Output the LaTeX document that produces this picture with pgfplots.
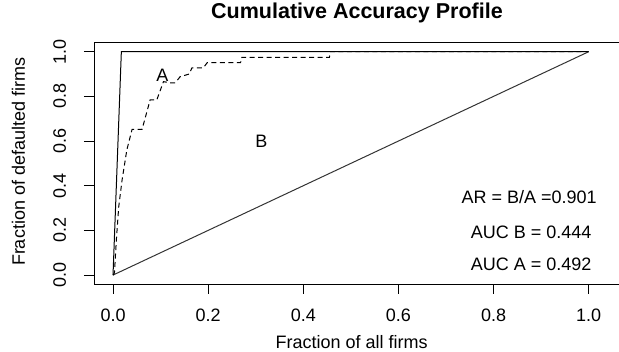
\documentclass[border=0pt]{standalone}
\usepackage{pgfplots}
\pgfplotsset{compat=1.18}
\usepackage{fontspec}
\setmainfont{Liberation Sans}
\begin{document}
\begin{tikzpicture}[font=\fontsize{18}{21}\selectfont]
\useasboundingbox (-94pt,-68pt) rectangle (525pt,284pt);
\clip (-94pt,-68pt) rectangle (525pt,284pt);
\begin{axis}[
  at={(0pt,0pt)}, anchor=south west,
  scale only axis,
  width=542.2pt, height=241.2pt,
  xmin=-0.04, xmax=1.1, ymin=-0.04, ymax=1.04,
  xtick={0,0.2,0.4,0.6,0.8,1.0},
  ytick={0,0.2,0.4,0.6,0.8,1.0},
  xticklabels={0.0,0.2,0.4,0.6,0.8,1.0},
  yticklabels={0.0,0.2,0.4,0.6,0.8,1.0},
  xtick pos=bottom, ytick pos=left,
  tick align=outside,
  major tick length=10pt,
  tick style={black, line width=0.9pt},
  axis line style={black, line width=0.9pt},
  /pgf/number format/assume math mode=true,
  xticklabel style={anchor=base, yshift=-28pt},
  yticklabel style={rotate=90, anchor=base, yshift=18pt},
  title={\textbf{Cumulative Accuracy Profile}},
  title style={at={(axis description cs:0.485,1.0738)}, anchor=base, font=\fontsize{21.5}{24}\selectfont\bfseries},
  xlabel={Fraction of all firms},
  ylabel={Fraction of defaulted firms},
  xlabel style={at={(axis description cs:0.475,-0.268)}, anchor=base},
  ylabel style={at={(axis description cs:-0.1273,0.506)}, anchor=base},
  clip=false,
]
% perfect model
\addplot[black, line width=1pt] coordinates {(0,0) (0.0175,1) (1,1)};
% random model
\addplot[black!80, line width=1pt] coordinates {(0,0) (1,1)};
% CAP curve
\addplot[black, line width=1pt, dash pattern=on 5pt off 3.5pt] coordinates {
(0,0) (0.003,0.01) (0.007,0.157) (0.012,0.306) (0.019,0.425) (0.029,0.56) (0.040,0.652)
(0.061,0.652) (0.078,0.784) (0.092,0.784) (0.106,0.866) (0.12,0.861) (0.131,0.861)
(0.141,0.888) (0.16,0.90) (0.166,0.928) (0.19,0.928) (0.198,0.951) (0.268,0.951)
(0.271,0.975) (0.455,0.975) (0.457,1.0) (1,1)};
\node at (axis cs:0.104,0.896) {A};
\node at (axis cs:0.312,0.60) {B};
\node at (axis cs:0.875,0.349) {AR = B/A =0.901};
\node at (axis cs:0.879,0.19) {AUC B = 0.444};
\node at (axis cs:0.879,0.047) {AUC A = 0.492};
\end{axis}
\end{tikzpicture}
\end{document}
